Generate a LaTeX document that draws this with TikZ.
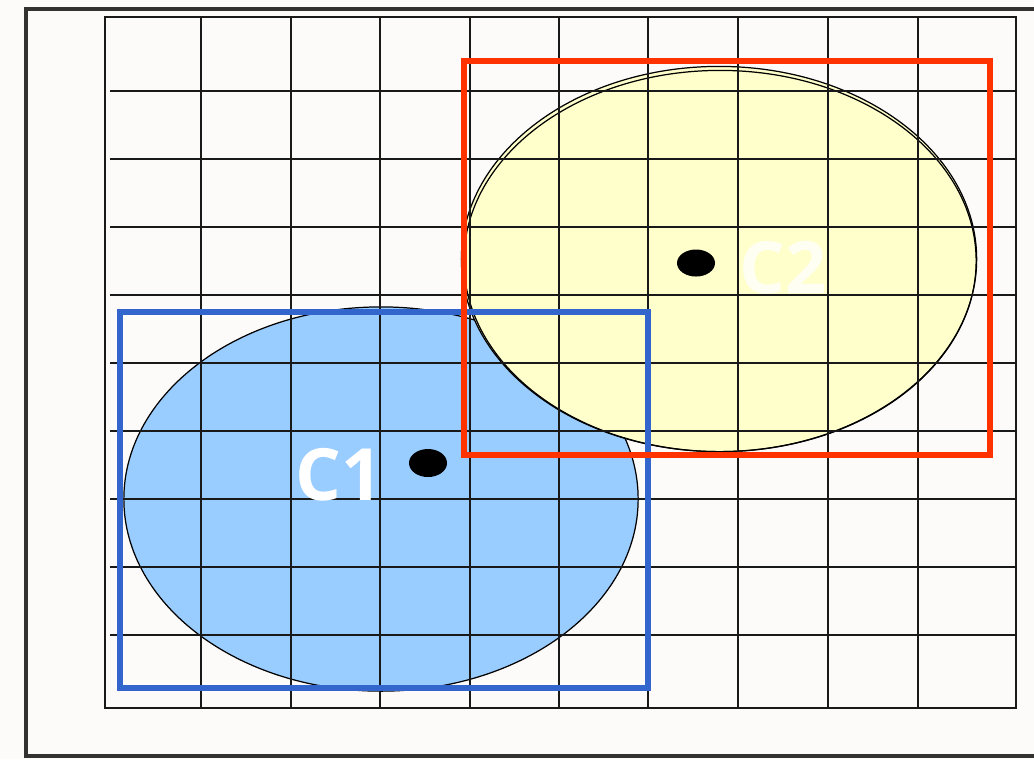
\documentclass[tikz,border=0pt]{standalone}
\usepackage{fontspec}
\setsansfont{Open Sans}
\definecolor{paper}{HTML}{FCFBFA}
\definecolor{frame}{HTML}{333231}
\definecolor{clusterA}{HTML}{99CCFF}
\definecolor{clusterB}{HTML}{FFFFCC}
\definecolor{boxA}{HTML}{3366CC}
\definecolor{boxB}{HTML}{FF3300}
\tikzset{
  gridline/.style={line width=0.5pt,black!90},
  cluster/.style={draw=black,line width=0.35pt},
  bbox/.style={line width=1.6pt},
  centre/.style={fill=black},
  clabel/.style={text=white,font=\sffamily\bfseries\fontsize{20.5}{23}\selectfont,inner sep=0pt}
}
\begin{document}
\begin{tikzpicture}[x=0.01cm,y=-0.01cm]
\useasboundingbox (0,0) rectangle (1034,759);
\fill[paper] (0,0) rectangle (1034,759);
\draw[frame,line width=1pt] (26,9) rectangle (1060,756);
% the two clusters
\fill[clusterA,cluster] (381,499) ellipse [x radius=2.57cm,y radius=1.92cm];
\fill[clusterB,cluster] (719,259) ellipse [x radius=2.575cm,y radius=1.925cm];
\draw[cluster] (720,261) ellipse [x radius=2.56cm,y radius=1.905cm];
% grid
\draw[gridline] (105,17) rectangle (1016,708);
\foreach \x in {201,291,380,470,559,648,738,828,918} {\draw[gridline] (\x,17)--(\x,708);}
\foreach \y in {91,159,227,295,363,431,499,567,635} {\draw[gridline] (110,\y)--(1016,\y);}
% bounding boxes
\draw[bbox,boxA] (120,312) rectangle (648,688);
\draw[bbox,boxB] (464,61) rectangle (990,455);
% centres
\fill[centre] (428,463) ellipse [x radius=0.19cm,y radius=0.14cm];
\fill[centre] (696,263) ellipse [x radius=0.19cm,y radius=0.135cm];
\node[clabel] (c1) at (339,475) {C1};
\node[clabel,text=white!95!yellow] (c2) at (783,268) {C2};
\end{tikzpicture}
\end{document}
